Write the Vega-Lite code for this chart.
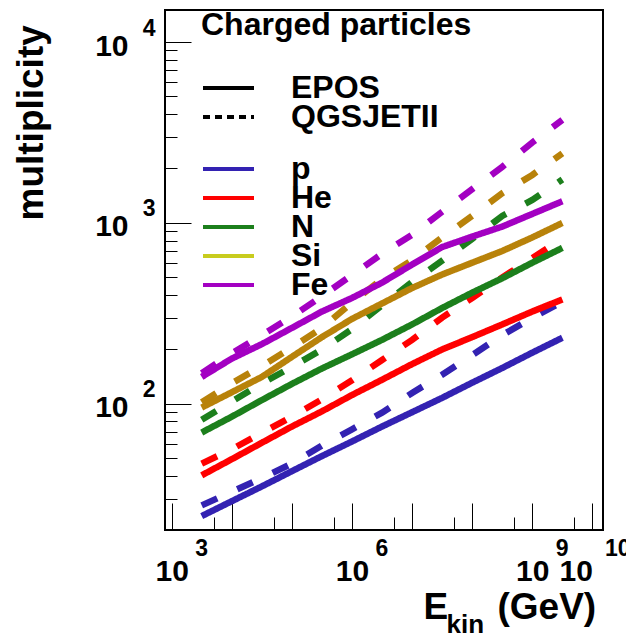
{
  "$schema": "https://vega.github.io/schema/vega-lite/v6.json",
  "width": 438,
  "height": 520,
  "autosize": "none",
  "padding": {"left": 165, "top": 10, "right": 23, "bottom": 107},
  "background": "white",
  "data": {"values": [
    {"particle":"p","model":"EPOS","E":3162,"M":24.0},
    {"particle":"p","model":"EPOS","E":10000,"M":29.0},
    {"particle":"p","model":"EPOS","E":31623,"M":35.0},
    {"particle":"p","model":"EPOS","E":100000,"M":42.5},
    {"particle":"p","model":"EPOS","E":316228,"M":51.5},
    {"particle":"p","model":"EPOS","E":1000000,"M":62},
    {"particle":"p","model":"EPOS","E":3162278,"M":75},
    {"particle":"p","model":"EPOS","E":10000000,"M":90},
    {"particle":"p","model":"EPOS","E":31622777,"M":108},
    {"particle":"p","model":"EPOS","E":100000000,"M":131},
    {"particle":"p","model":"EPOS","E":316227766,"M":158},
    {"particle":"p","model":"EPOS","E":1000000000,"M":192},
    {"particle":"p","model":"EPOS","E":3162277660,"M":232},
    {"particle":"p","model":"QGSJETII","E":3162,"M":27.5},
    {"particle":"p","model":"QGSJETII","E":10000,"M":32.7},
    {"particle":"p","model":"QGSJETII","E":31623,"M":38.9},
    {"particle":"p","model":"QGSJETII","E":100000,"M":46.8},
    {"particle":"p","model":"QGSJETII","E":316228,"M":58.9},
    {"particle":"p","model":"QGSJETII","E":1000000,"M":72.4},
    {"particle":"p","model":"QGSJETII","E":3162278,"M":89.5},
    {"particle":"p","model":"QGSJETII","E":10000000,"M":115},
    {"particle":"p","model":"QGSJETII","E":31622777,"M":145},
    {"particle":"p","model":"QGSJETII","E":100000000,"M":186},
    {"particle":"p","model":"QGSJETII","E":316227766,"M":240},
    {"particle":"p","model":"QGSJETII","E":1000000000,"M":299},
    {"particle":"p","model":"QGSJETII","E":3162277660,"M":367},
    {"particle":"He","model":"EPOS","E":3162,"M":40.3},
    {"particle":"He","model":"EPOS","E":10000,"M":49.5},
    {"particle":"He","model":"EPOS","E":31623,"M":61},
    {"particle":"He","model":"EPOS","E":100000,"M":75},
    {"particle":"He","model":"EPOS","E":316228,"M":91},
    {"particle":"He","model":"EPOS","E":1000000,"M":112},
    {"particle":"He","model":"EPOS","E":3162278,"M":136},
    {"particle":"He","model":"EPOS","E":10000000,"M":166},
    {"particle":"He","model":"EPOS","E":31622777,"M":200},
    {"particle":"He","model":"EPOS","E":100000000,"M":234},
    {"particle":"He","model":"EPOS","E":316227766,"M":275},
    {"particle":"He","model":"EPOS","E":1000000000,"M":324},
    {"particle":"He","model":"EPOS","E":3162277660,"M":378},
    {"particle":"He","model":"QGSJETII","E":3162,"M":46.8},
    {"particle":"He","model":"QGSJETII","E":10000,"M":56.2},
    {"particle":"He","model":"QGSJETII","E":31623,"M":69.2},
    {"particle":"He","model":"QGSJETII","E":100000,"M":85.1},
    {"particle":"He","model":"QGSJETII","E":316228,"M":106},
    {"particle":"He","model":"QGSJETII","E":1000000,"M":135},
    {"particle":"He","model":"QGSJETII","E":3162278,"M":175},
    {"particle":"He","model":"QGSJETII","E":10000000,"M":226},
    {"particle":"He","model":"QGSJETII","E":31622777,"M":300},
    {"particle":"He","model":"QGSJETII","E":100000000,"M":385},
    {"particle":"He","model":"QGSJETII","E":316227766,"M":500},
    {"particle":"He","model":"QGSJETII","E":1000000000,"M":640},
    {"particle":"He","model":"QGSJETII","E":3162277660,"M":820},
    {"particle":"N","model":"EPOS","E":3162,"M":69.5},
    {"particle":"N","model":"EPOS","E":10000,"M":85},
    {"particle":"N","model":"EPOS","E":31623,"M":105},
    {"particle":"N","model":"EPOS","E":100000,"M":129},
    {"particle":"N","model":"EPOS","E":316228,"M":157},
    {"particle":"N","model":"EPOS","E":1000000,"M":188},
    {"particle":"N","model":"EPOS","E":3162278,"M":226},
    {"particle":"N","model":"EPOS","E":10000000,"M":275},
    {"particle":"N","model":"EPOS","E":31622777,"M":339},
    {"particle":"N","model":"EPOS","E":100000000,"M":412},
    {"particle":"N","model":"EPOS","E":316227766,"M":495},
    {"particle":"N","model":"EPOS","E":1000000000,"M":603},
    {"particle":"N","model":"EPOS","E":3162277660,"M":728},
    {"particle":"N","model":"QGSJETII","E":3162,"M":81.8},
    {"particle":"N","model":"QGSJETII","E":10000,"M":103},
    {"particle":"N","model":"QGSJETII","E":31623,"M":130},
    {"particle":"N","model":"QGSJETII","E":100000,"M":160},
    {"particle":"N","model":"QGSJETII","E":316228,"M":200},
    {"particle":"N","model":"QGSJETII","E":1000000,"M":259},
    {"particle":"N","model":"QGSJETII","E":3162278,"M":351},
    {"particle":"N","model":"QGSJETII","E":10000000,"M":472},
    {"particle":"N","model":"QGSJETII","E":31622777,"M":619},
    {"particle":"N","model":"QGSJETII","E":100000000,"M":817},
    {"particle":"N","model":"QGSJETII","E":316227766,"M":1094},
    {"particle":"N","model":"QGSJETII","E":1000000000,"M":1340},
    {"particle":"N","model":"QGSJETII","E":3162277660,"M":1738},
    {"particle":"Si","model":"EPOS","E":3162,"M":95.5},
    {"particle":"Si","model":"EPOS","E":10000,"M":116},
    {"particle":"Si","model":"EPOS","E":31623,"M":141},
    {"particle":"Si","model":"EPOS","E":100000,"M":182},
    {"particle":"Si","model":"EPOS","E":316228,"M":234},
    {"particle":"Si","model":"EPOS","E":1000000,"M":295},
    {"particle":"Si","model":"EPOS","E":3162278,"M":359},
    {"particle":"Si","model":"EPOS","E":10000000,"M":437},
    {"particle":"Si","model":"EPOS","E":31622777,"M":519},
    {"particle":"Si","model":"EPOS","E":100000000,"M":603},
    {"particle":"Si","model":"EPOS","E":316227766,"M":700},
    {"particle":"Si","model":"EPOS","E":1000000000,"M":832},
    {"particle":"Si","model":"EPOS","E":3162277660,"M":1000},
    {"particle":"Si","model":"QGSJETII","E":3162,"M":102},
    {"particle":"Si","model":"QGSJETII","E":10000,"M":130},
    {"particle":"Si","model":"QGSJETII","E":31623,"M":162},
    {"particle":"Si","model":"QGSJETII","E":100000,"M":205},
    {"particle":"Si","model":"QGSJETII","E":316228,"M":263},
    {"particle":"Si","model":"QGSJETII","E":1000000,"M":363},
    {"particle":"Si","model":"QGSJETII","E":3162278,"M":490},
    {"particle":"Si","model":"QGSJETII","E":10000000,"M":624},
    {"particle":"Si","model":"QGSJETII","E":31622777,"M":832},
    {"particle":"Si","model":"QGSJETII","E":100000000,"M":1096},
    {"particle":"Si","model":"QGSJETII","E":316227766,"M":1462},
    {"particle":"Si","model":"QGSJETII","E":1000000000,"M":1841},
    {"particle":"Si","model":"QGSJETII","E":3162277660,"M":2427},
    {"particle":"Fe","model":"EPOS","E":3162,"M":141},
    {"particle":"Fe","model":"EPOS","E":10000,"M":178},
    {"particle":"Fe","model":"EPOS","E":31623,"M":214},
    {"particle":"Fe","model":"EPOS","E":100000,"M":263},
    {"particle":"Fe","model":"EPOS","E":316228,"M":324},
    {"particle":"Fe","model":"EPOS","E":1000000,"M":385},
    {"particle":"Fe","model":"EPOS","E":3162278,"M":468},
    {"particle":"Fe","model":"EPOS","E":10000000,"M":589},
    {"particle":"Fe","model":"EPOS","E":31622777,"M":736},
    {"particle":"Fe","model":"EPOS","E":100000000,"M":841},
    {"particle":"Fe","model":"EPOS","E":316227766,"M":955},
    {"particle":"Fe","model":"EPOS","E":1000000000,"M":1122},
    {"particle":"Fe","model":"EPOS","E":3162277660,"M":1318},
    {"particle":"Fe","model":"QGSJETII","E":3162,"M":148},
    {"particle":"Fe","model":"QGSJETII","E":10000,"M":190},
    {"particle":"Fe","model":"QGSJETII","E":31623,"M":240},
    {"particle":"Fe","model":"QGSJETII","E":100000,"M":304},
    {"particle":"Fe","model":"QGSJETII","E":316228,"M":394},
    {"particle":"Fe","model":"QGSJETII","E":1000000,"M":516},
    {"particle":"Fe","model":"QGSJETII","E":3162278,"M":676},
    {"particle":"Fe","model":"QGSJETII","E":10000000,"M":861},
    {"particle":"Fe","model":"QGSJETII","E":31622777,"M":1153},
    {"particle":"Fe","model":"QGSJETII","E":100000000,"M":1538},
    {"particle":"Fe","model":"QGSJETII","E":316227766,"M":2042},
    {"particle":"Fe","model":"QGSJETII","E":1000000000,"M":2786},
    {"particle":"Fe","model":"QGSJETII","E":3162277660,"M":3715}
  ]},
  "layer": [
    {
      "mark": {"type": "line", "strokeWidth": 6.5, "strokeCap": "butt", "strokeJoin": "miter"},
      "encoding": {
        "x": {"field": "E", "type": "quantitative",
          "scale": {"type": "log", "domain": [774, 15000000000], "nice": false, "zero": false},
          "axis": {"orient": "bottom", "values": [1000, 10000, 100000, 1000000, 10000000, 100000000, 1000000000, 10000000000],
            "offset": -27, "tickSize": 27, "tickWidth": 1, "tickColor": "black", "domain": false, "grid": false,
            "labelExpr": "indexof([3,6,9,10], round(log(datum.value)/LN10)) >= 0 ? '10' : ''",
            "labelFontSize": 30, "labelFontWeight": "bold", "labelColor": "black", "labelPadding": 50,
            "labelBaseline": "alphabetic", "labelAlign": {"condition": {"test": "datum.value > 5000000000", "value": "right"}, "value": "center"},
            "labelOverlap": false, "labelFlush": false, "labelBound": false,
            "title": "E", "titleX": 258, "titleY": 115, "titleAlign": "left", "titleBaseline": "alphabetic",
            "titleFontSize": 37, "titleFontWeight": "bold", "titleColor": "black"}},
        "y": {"field": "M", "type": "quantitative",
          "scale": {"type": "log", "domain": [20.1, 15030], "nice": false, "zero": false},
          "axis": {"orient": "left", "values": [100, 1000, 10000],
            "offset": -26, "tickSize": 26, "tickWidth": 1, "tickColor": "black", "domain": false, "grid": false,
            "labelExpr": "'10'", "labelFontSize": 30, "labelFontWeight": "bold", "labelColor": "black",
            "labelPadding": 37, "labelAlign": "right", "labelBaseline": "alphabetic", "labelOffset": 13,
            "labelOverlap": false, "labelFlush": false, "labelBound": false, "title": null}},
        "color": {"field": "particle", "type": "nominal",
          "scale": {"domain": ["p", "He", "N", "Si", "Fe"], "range": ["#3322b2", "#ff0000", "#1c7f1c", "#b8820a", "#a300c2"]},
          "legend": null},
        "strokeDash": {"field": "model", "type": "nominal",
          "scale": {"domain": ["EPOS", "QGSJETII"], "range": [[1, 0], [17, 22]]},
          "legend": null}
      }
    },
    {
      "mark": {"type": "line", "strokeWidth": 0, "opacity": 0},
      "encoding": {
        "x": {"field": "E", "type": "quantitative",
          "scale": {"type": "log", "domain": [774, 15000000000], "nice": false, "zero": false},
          "axis": {"orient": "bottom", "values": [1000, 1000000, 1000000000, 10000000000],
            "ticks": false, "tickSize": 0, "domain": false, "grid": false,
            "labelExpr": "'' + round(log(datum.value)/LN10)",
            "labelFontSize": 23, "labelFontWeight": "bold", "labelColor": "black", "labelPadding": 25,
            "labelBaseline": "alphabetic", "labelAlign": "left",
            "labelOffset": {"condition": {"test": "datum.value > 5000000000", "value": 12}, "value": 23},
            "labelOverlap": false, "labelFlush": false, "labelBound": false,
            "title": "(GeV)", "titleX": 332, "titleY": 88, "titleAlign": "left", "titleBaseline": "alphabetic",
            "titleFontSize": 37, "titleFontWeight": "bold", "titleColor": "black"}},
        "y": {"field": "M", "type": "quantitative",
          "scale": {"type": "log", "domain": [20.1, 15030], "nice": false, "zero": false},
          "axis": {"orient": "left", "values": [100, 1000, 10000],
            "ticks": false, "tickSize": 0, "domain": false, "grid": false,
            "labelExpr": "'' + round(log(datum.value)/LN10)",
            "labelFontSize": 23, "labelFontWeight": "bold", "labelColor": "black", "labelPadding": 10,
            "labelAlign": "right", "labelBaseline": "alphabetic", "labelOffset": -7,
            "labelOverlap": false, "labelFlush": false, "labelBound": false,
            "title": "multiplicity", "titleX": -123, "titleY": 210, "titleAngle": -90, "titleAlign": "left",
            "titleBaseline": "alphabetic", "titleFontSize": 37, "titleFontWeight": "bold", "titleColor": "black"}},
        "color": {"field": "particle", "type": "nominal",
          "scale": {"domain": ["p", "He", "N", "Si", "Fe"], "range": ["#3322b2", "#ff0000", "#1c7f1c", "#c8cc1e", "#a300c2"]},
          "legend": {"orient": "none", "legendX": 36, "legendY": 146, "title": null, "padding": 0,
            "labelFontSize": 32, "labelFontWeight": "bold", "labelColor": "black", "labelLimit": 400, "labelOffset": 35,
            "symbolType": "stroke", "symbolSize": 2601, "symbolStrokeWidth": 4, "symbolOpacity": 1, "rowPadding": -11, "clipHeight": 26}},
        "strokeDash": {"field": "model", "type": "nominal",
          "scale": {"domain": ["EPOS", "QGSJETII"], "range": [[1, 0], [7, 5]]},
          "legend": {"orient": "none", "legendX": 36, "legendY": 0, "title": "\u2009Charged particles", "padding": 0,
            "titleFontSize": 32, "titleFontWeight": "bold", "titleColor": "black", "titleLimit": 500, "titlePadding": 33,
            "labelFontSize": 32, "labelFontWeight": "bold", "labelColor": "black", "labelLimit": 400, "labelOffset": 35,
            "symbolType": "stroke", "symbolSize": 2601, "symbolStrokeWidth": 4, "symbolStrokeColor": "black", "symbolOpacity": 1, "rowPadding": -11, "clipHeight": 26}}
      }
    },
    {
      "mark": {"type": "point", "opacity": 0, "size": 0},
      "encoding": {
        "x": {"field": "E", "type": "quantitative",
          "scale": {"type": "log", "domain": [774, 15000000000], "nice": false, "zero": false},
          "axis": {"orient": "bottom", "values": [5000, 50000, 500000, 5000000, 50000000, 500000000, 5000000000],
            "offset": -13, "tickSize": 13, "tickWidth": 1, "tickColor": "black", "domain": false, "grid": false,
            "labels": false,
            "title": "kin", "titleX": 281, "titleY": 115, "titleAlign": "left", "titleBaseline": "alphabetic",
            "titleFontSize": 26, "titleFontWeight": "bold", "titleColor": "black"}},
        "y": {"field": "M", "type": "quantitative",
          "scale": {"type": "log", "domain": [20.1, 15030], "nice": false, "zero": false},
          "axis": {"orient": "left", "values": [30, 40, 50, 60, 70, 80, 90, 200, 300, 400, 500, 600, 700, 800, 900, 2000, 3000, 4000, 5000, 6000, 7000, 8000, 9000],
            "offset": -12, "tickSize": 12, "tickWidth": 1, "tickColor": "black", "domain": false, "grid": false,
            "labels": false, "title": null}}
      }
    }
  ],
  "resolve": {"axis": {"x": "independent", "y": "independent"}, "scale": {"color": "independent", "strokeDash": "independent"}},
  "config": {
    "font": "Liberation Sans",
    "view": {"stroke": "black", "strokeWidth": 2},
    "axis": {"labelFont": "Liberation Sans", "titleFont": "Liberation Sans"},
    "legend": {"labelFont": "Liberation Sans", "titleFont": "Liberation Sans"}
  }
}
